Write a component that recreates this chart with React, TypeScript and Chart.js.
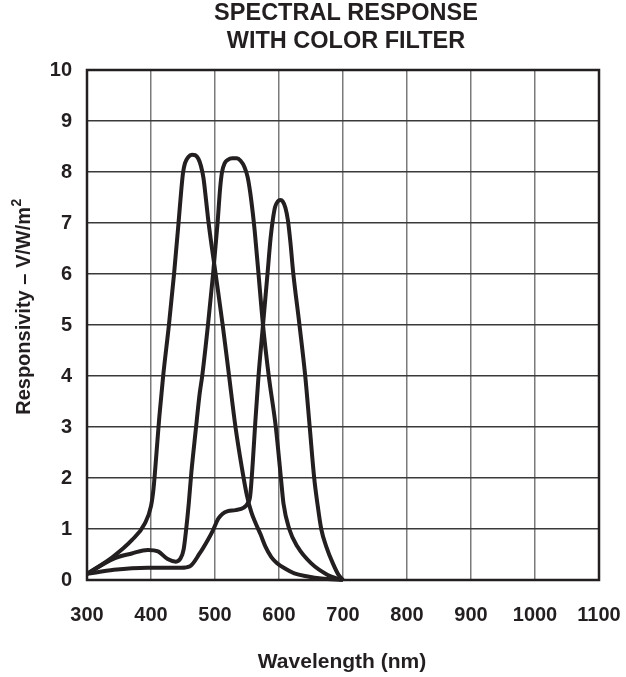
import React, { useEffect, useRef } from "react";
import { Chart, registerables } from "chart.js";

Chart.register(...registerables);

// ---- Data ----
const titleLines = ["SPECTRAL RESPONSE", "WITH COLOR FILTER"];
const xAxisTitle = "Wavelength (nm)";
const yAxisTitleMain = "Responsivity – V/W/m";
const yAxisTitleSup = "2";

const xTicks = [300, 400, 500, 600, 700, 800, 900, 1000, 1100];
const yTicks = [0, 1, 2, 3, 4, 5, 6, 7, 8, 9, 10];

// Curve peaking near 470 nm
const blueNm = [300, 340, 370, 390, 400, 404, 408, 413, 419, 428, 436, 443, 447, 450, 453, 458, 464, 469, 474, 478, 482, 486, 490, 501, 512, 522, 532, 542, 550, 557, 564, 571, 579, 588, 597, 610, 624, 645, 666, 700];
const blueVal = [0.12, 0.45, 0.78, 1.1, 1.45, 1.8, 2.4, 3.2, 4.0, 5.0, 6.0, 7.0, 7.6, 7.98, 8.17, 8.29, 8.34, 8.33, 8.26, 8.12, 7.88, 7.45, 7.0, 6.0, 5.0, 4.0, 3.0, 2.2, 1.65, 1.32, 1.1, 0.9, 0.65, 0.45, 0.33, 0.22, 0.13, 0.07, 0.03, 0];

// Curve peaking near 535 nm
const greenNm = [300, 342, 370, 395, 411, 426, 439, 446, 451, 455, 459, 463, 470, 476, 480, 489, 497, 504, 508, 511, 515, 520, 527, 534, 540, 546, 551, 555, 559, 562, 568, 575, 584, 595, 603, 607, 616, 629, 650, 676, 697];
const greenVal = [0.12, 0.42, 0.52, 0.59, 0.56, 0.41, 0.36, 0.42, 0.6, 1.0, 1.5, 2.1, 2.95, 3.65, 4.0, 5.0, 6.0, 7.0, 7.68, 8.0, 8.17, 8.24, 8.27, 8.27, 8.22, 8.1, 7.9, 7.6, 7.2, 6.85, 6.0, 5.0, 4.0, 3.0, 2.0, 1.5, 1.0, 0.65, 0.33, 0.1, 0];

// Curve peaking near 605 nm
const redNm = [300, 342, 395, 447, 461, 476, 489, 497, 505, 512, 520, 532, 545, 551, 555, 559, 563, 568, 575, 582, 587, 591, 594, 598, 602, 606, 610, 614, 618, 622, 632, 641, 648, 655, 660, 666, 674, 684, 693, 700];
const redVal = [0.12, 0.2, 0.24, 0.24, 0.27, 0.52, 0.79, 0.98, 1.2, 1.3, 1.35, 1.37, 1.42, 1.5, 1.65, 2.3, 3.1, 4.0, 5.0, 6.0, 6.72, 7.12, 7.32, 7.42, 7.45, 7.42, 7.3, 7.05, 6.6, 6.05, 5.0, 4.0, 3.0, 2.0, 1.5, 1.0, 0.65, 0.33, 0.1, 0];

const FONT = "'Liberation Sans', Arial, Helvetica, sans-serif";
const INK = "#231f20";

const toPoints = (xs: number[], ys: number[]) => xs.map((x, i) => ({ x, y: ys[i] }));

const textPlugin = {
  id: "customText",
  beforeDatasetsDraw(chart: any) {
    const { ctx, chartArea } = chart;
    ctx.save();
    ctx.strokeStyle = INK;
    ctx.lineWidth = 2.5;
    ctx.strokeRect(chartArea.left, chartArea.top, chartArea.right - chartArea.left, chartArea.bottom - chartArea.top);
    ctx.restore();
  },
  afterDraw(chart: any) {
    const { ctx } = chart;
    ctx.save();
    ctx.fillStyle = INK;
    ctx.textAlign = "center";
    ctx.textBaseline = "middle";
    ctx.font = `bold 23.5px ${FONT}`;
    ctx.fillText(titleLines[0], 346, 14);
    ctx.fillText(titleLines[1], 346, 42);

    ctx.font = `bold 21px ${FONT}`;
    ctx.fillText(xAxisTitle, 342, 662);

    // y-axis title, rotated
    ctx.translate(24, 307);
    ctx.rotate(-Math.PI / 2);
    ctx.font = `bold 20px ${FONT}`;
    const w1 = ctx.measureText(yAxisTitleMain).width;
    ctx.font = `bold 14px ${FONT}`;
    const w2 = ctx.measureText(yAxisTitleSup).width;
    const start = -(w1 + w2) / 2;
    ctx.textAlign = "left";
    ctx.font = `bold 20px ${FONT}`;
    ctx.fillText(yAxisTitleMain, start, 0);
    ctx.font = `bold 14px ${FONT}`;
    ctx.fillText(yAxisTitleSup, start + w1 + 0.5, -7);
    ctx.restore();
  },
};

export default function App() {
  const canvasRef = useRef<HTMLCanvasElement | null>(null);

  useEffect(() => {
    if (!canvasRef.current) return;
    const lineStyle = {
      borderColor: INK,
      borderWidth: 4,
      pointRadius: 0,
      fill: false,
      cubicInterpolationMode: "monotone" as const,
      clip: false as any,
    };
    const chart = new Chart(canvasRef.current, {
      type: "line",
      data: {
        datasets: [
          { label: "Blue", data: toPoints(blueNm, blueVal), ...lineStyle },
          { label: "Green", data: toPoints(greenNm, greenVal), ...lineStyle },
          { label: "Red", data: toPoints(redNm, redVal), ...lineStyle },
        ],
      },
      options: {
        animation: false,
        responsive: true,
        maintainAspectRatio: false,
        layout: { padding: { top: 70, right: 27, left: 0, bottom: 0 } },
        plugins: { legend: { display: false }, title: { display: false }, tooltip: { enabled: false } },
        scales: {
          x: {
            type: "linear",
            min: 300,
            max: 1100,
            afterBuildTicks: (scale: any) => {
              scale.ticks = xTicks.map((v) => ({ value: v }));
            },
            afterFit: (scale: any) => {
              scale.height = 97;
              scale.paddingLeft = 0;
              scale.paddingRight = 0;
            },
            grid: { color: "#7a7a7a", lineWidth: 1.5, drawTicks: false },
            border: { display: false },
            ticks: {
              padding: 23,
              color: INK,
              font: { family: FONT, size: 20, weight: "bold" },
              maxRotation: 0,
              autoSkip: false,
              callback: (v: any) => String(v),
            },
          },
          y: {
            type: "linear",
            min: 0,
            max: 10,
            afterBuildTicks: (scale: any) => {
              scale.ticks = yTicks.map((v) => ({ value: v }));
            },
            afterFit: (scale: any) => {
              scale.width = 87;
              scale.paddingTop = 0;
              scale.paddingBottom = 0;
            },
            grid: { color: "#3a3a3a", lineWidth: 1.5, drawTicks: false },
            border: { display: false },
            ticks: {
              padding: 15,
              color: INK,
              font: { family: FONT, size: 20, weight: "bold" },
              autoSkip: false,
              callback: (v: any) => String(v),
            },
          },
        },
      },
      plugins: [textPlugin],
    } as any);
    return () => chart.destroy();
  }, []);

  return (
    <div style={{ position: "fixed", left: 0, top: 0, width: 626, height: 677, background: "#fff" }}>
      <canvas ref={canvasRef} />
    </div>
  );
}
